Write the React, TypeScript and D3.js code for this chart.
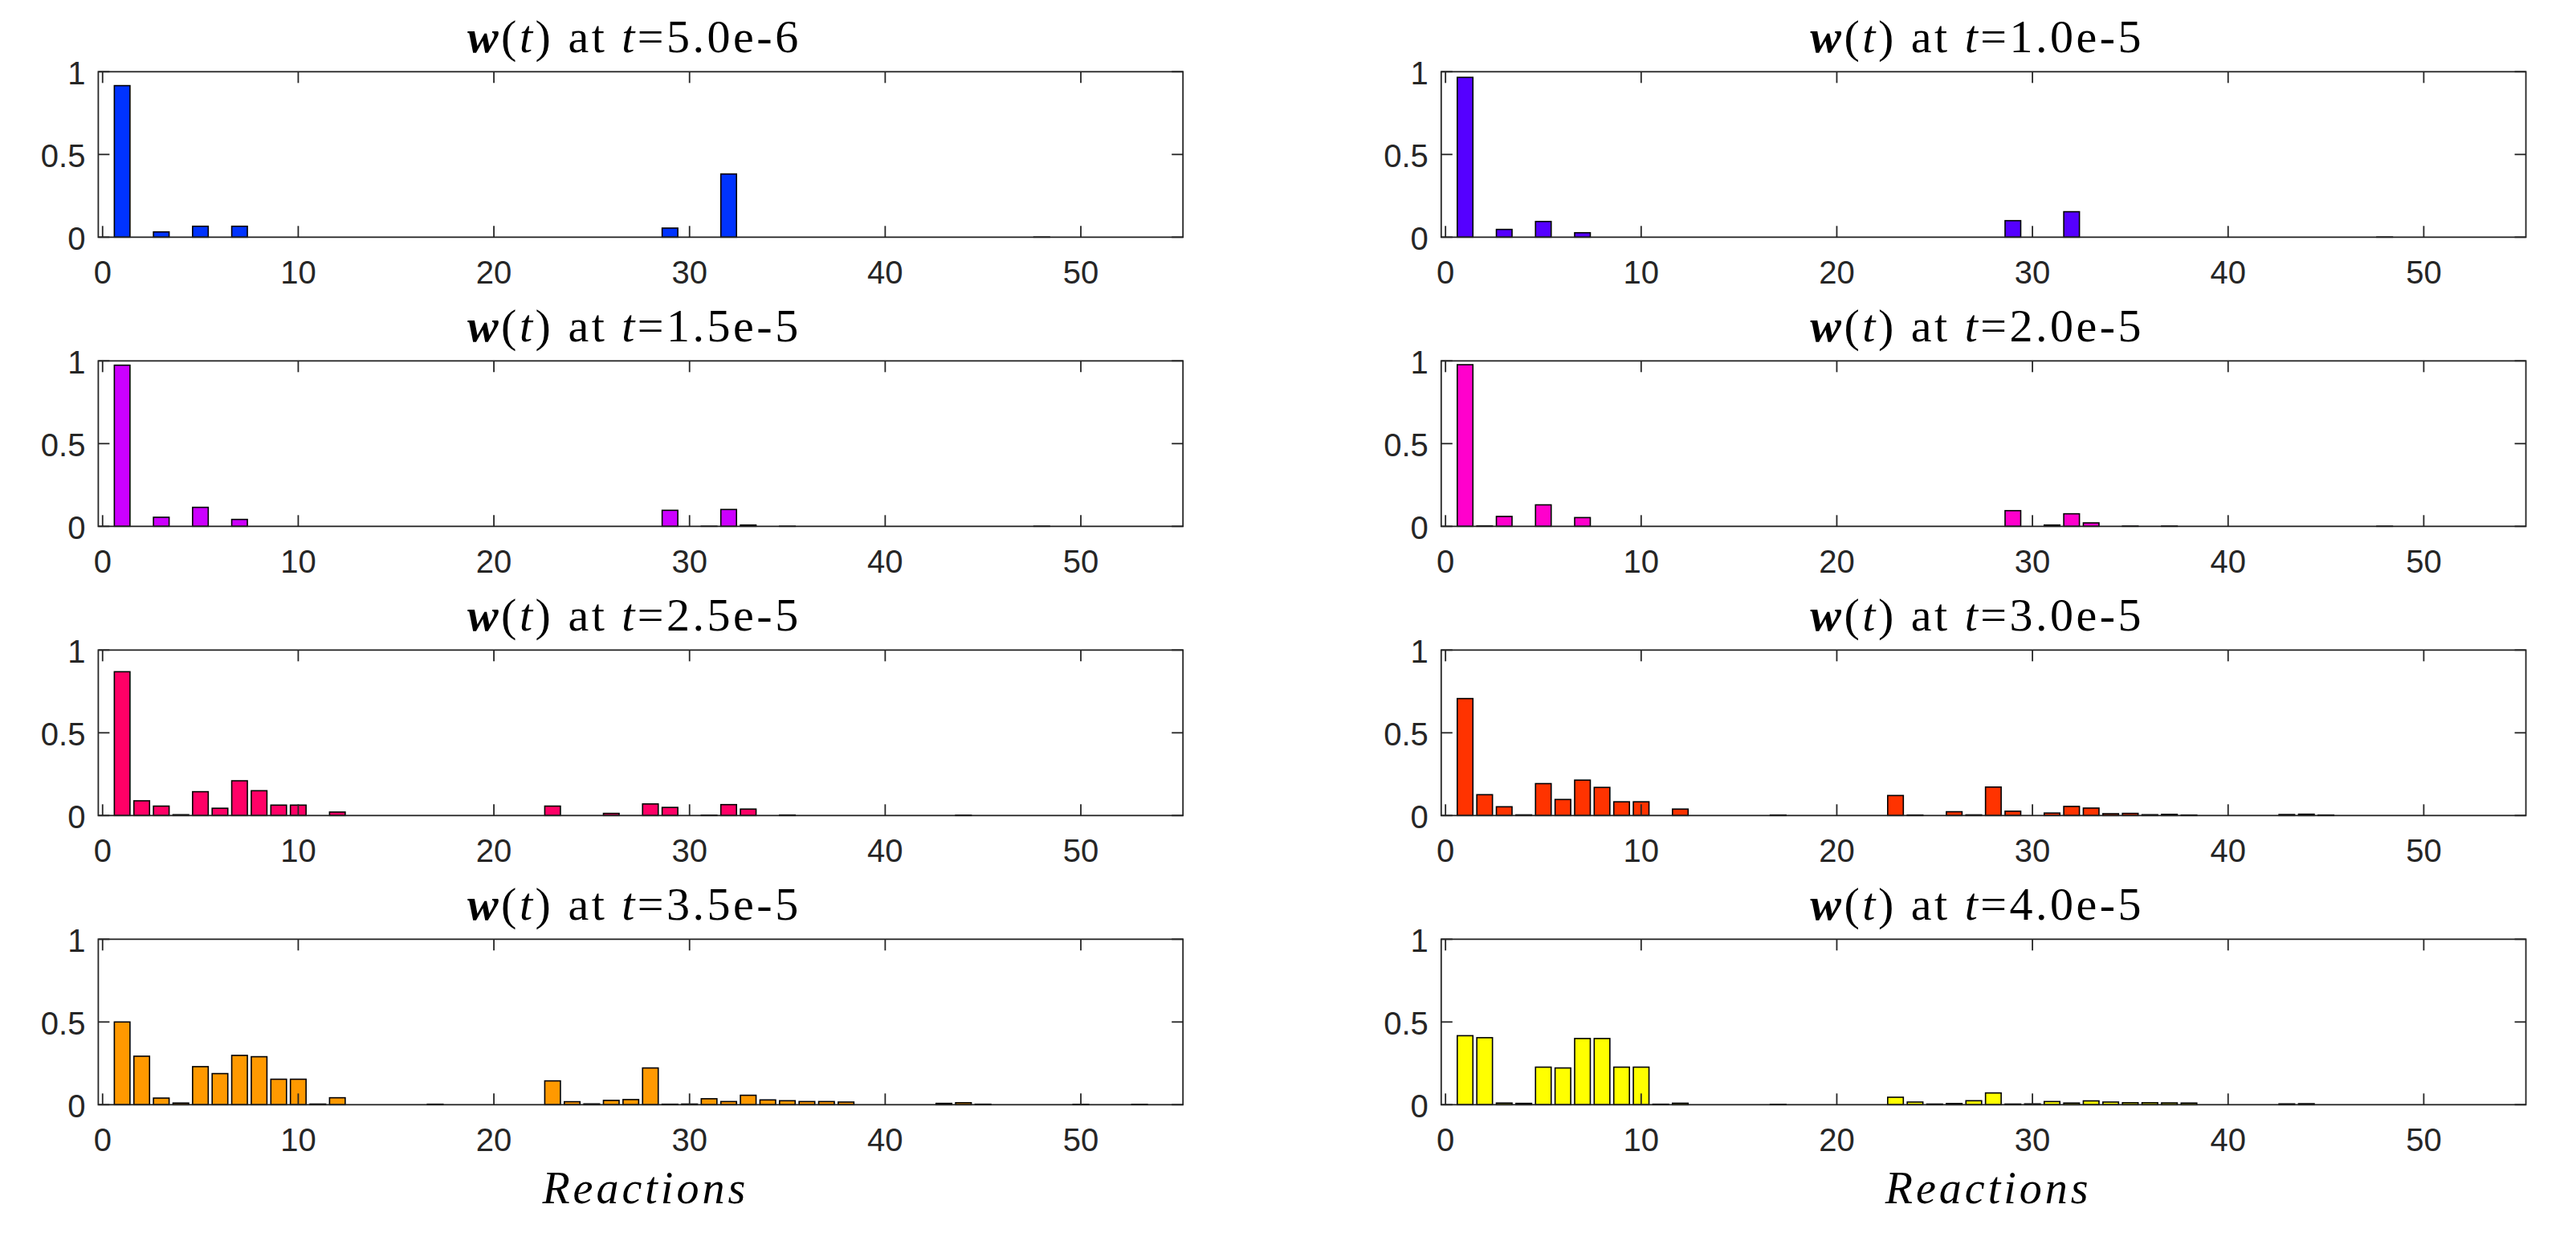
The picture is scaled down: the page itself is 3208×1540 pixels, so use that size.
import * as d3 from 'd3';

// 54 reactions, weight of each reaction at eight snapshots in time
const REACTIONS = d3.range(1, 55);

const W_5_0e6 = [
  0.916, 0, 0.032, 0, 0.066, 0, 0.066, 0, 0, 0,
  0, 0, 0, 0, 0, 0, 0, 0, 0, 0,
  0, 0, 0, 0, 0, 0, 0, 0, 0.055, 0,
  0, 0.382, 0, 0, 0, 0, 0, 0, 0, 0,
  0, 0, 0, 0, 0, 0, 0, 0.001, 0, 0,
  0, 0, 0, 0,
];
const W_1_0e5 = [
  0.966, 0, 0.047, 0, 0.095, 0, 0.027, 0, 0, 0,
  0, 0, 0, 0, 0, 0, 0, 0, 0, 0,
  0, 0, 0, 0, 0, 0, 0, 0, 0.1, 0,
  0, 0.154, 0, 0, 0, 0, 0, 0, 0, 0,
  0, 0, 0, 0, 0, 0, 0, 0.001, 0, 0,
  0, 0, 0, 0,
];
const W_1_5e5 = [
  0.974, 0, 0.055, 0, 0.115, 0, 0.042, 0, 0, 0,
  0, 0, 0, 0, 0, 0, 0, 0, 0, 0,
  0, 0, 0, 0, 0, 0, 0, 0, 0.097, 0,
  0.001, 0.102, 0.008, 0, 0.001, 0, 0, 0, 0, 0,
  0, 0, 0, 0, 0, 0, 0, 0.001, 0, 0,
  0, 0, 0, 0,
];
const W_2_0e5 = [
  0.977, 0.003, 0.06, 0, 0.13, 0, 0.053, 0, 0, 0,
  0, 0, 0, 0, 0, 0, 0, 0, 0, 0,
  0, 0, 0, 0, 0, 0, 0, 0, 0.095, 0,
  0.008, 0.076, 0.021, 0, 0.002, 0, 0.002, 0, 0, 0,
  0, 0, 0, 0, 0, 0, 0, 0.001, 0, 0,
  0, 0, 0, 0,
];
const W_2_5e5 = [
  0.869, 0.089, 0.057, 0.005, 0.144, 0.044, 0.21, 0.15, 0.063, 0.063,
  0, 0.021, 0, 0, 0, 0, 0, 0, 0, 0,
  0, 0, 0.057, 0, 0, 0.013, 0, 0.07, 0.049, 0,
  0.002, 0.066, 0.039, 0, 0.003, 0, 0, 0, 0, 0,
  0, 0, 0, 0.002, 0, 0, 0, 0, 0, 0,
  0, 0, 0, 0,
];
const W_3_0e5 = [
  0.707, 0.126, 0.053, 0.004, 0.193, 0.097, 0.214, 0.17, 0.083, 0.083,
  0, 0.039, 0, 0, 0, 0, 0.003, 0, 0, 0,
  0, 0, 0.121, 0.003, 0, 0.023, 0.004, 0.172, 0.026, 0,
  0.015, 0.055, 0.045, 0.011, 0.013, 0.005, 0.007, 0.003, 0, 0,
  0, 0, 0.006, 0.008, 0.003, 0, 0, 0, 0, 0,
  0, 0, 0, 0,
];
const W_3_5e5 = [
  0.5, 0.293, 0.04, 0.01, 0.23, 0.188, 0.298, 0.29, 0.154, 0.154,
  0.004, 0.042, 0, 0, 0, 0, 0.003, 0, 0, 0,
  0, 0, 0.144, 0.018, 0.005, 0.026, 0.031, 0.222, 0.003, 0.004,
  0.036, 0.019, 0.057, 0.029, 0.024, 0.019, 0.019, 0.016, 0, 0,
  0, 0, 0.008, 0.012, 0.003, 0, 0, 0, 0, 0.002,
  0, 0, 0.002, 0,
];
const W_4_0e5 = [
  0.417, 0.405, 0.01, 0.008, 0.227, 0.222, 0.4, 0.4, 0.227, 0.227,
  0.003, 0.009, 0, 0, 0, 0, 0.002, 0, 0, 0,
  0, 0, 0.045, 0.016, 0.004, 0.007, 0.024, 0.071, 0.004, 0.005,
  0.019, 0.01, 0.023, 0.016, 0.012, 0.012, 0.011, 0.01, 0, 0,
  0, 0, 0.005, 0.006, 0, 0, 0, 0, 0, 0,
  0, 0, 0, 0,
];

const TIMES = ['5.0e-6', '1.0e-5', '1.5e-5', '2.0e-5', '2.5e-5', '3.0e-5', '3.5e-5', '4.0e-5'];
const SERIES = [W_5_0e6, W_1_0e5, W_1_5e5, W_2_0e5, W_2_5e5, W_3_0e5, W_3_5e5, W_4_0e5];
const COLORS = ['#0033ff', '#5500ff', '#cc00ff', '#ff00cc', '#ff0066', '#ff3300', '#ff9900', '#ffff00'];

const X_TICKS = [0, 10, 20, 30, 40, 50];
const Y_TICKS = [0, 0.5, 1];

const WIDTH = 3208;
const HEIGHT = 1540;
const COL_LEFT = [122.4, 1794.8];
const ROW_TOP = [89.3, 449.3, 809.3, 1169.3];
const PW = 1350.8;
const PH = 206;
const TICK = 14;
const AXIS = '#262626';
const SANS = "'Liberation Sans', Arial, Helvetica, sans-serif";
const SERIF = "'Liberation Serif', 'Times New Roman', serif";

const x = d3.scaleLinear().domain([-0.22, 55.22]).range([0, PW]);
const y = d3.scaleLinear().domain([0, 1]).range([PH, 0]);
const barW = x(0.8) - x(0);

function Panel({ i }: { i: number }) {
  const left = COL_LEFT[i % 2];
  const top = ROW_TOP[Math.floor(i / 2)];
  const vals = SERIES[i];
  const bottomRow = Math.floor(i / 2) === 3;
  return (
    <g transform={`translate(${left},${top})`}>
      {/* title */}
      <text x={PW / 2 - 8} y={-24} textAnchor="middle" fontFamily={SERIF}
        fontSize={58} letterSpacing={3.5} fill="#000">
        <tspan fontWeight="bold" fontStyle="italic">w</tspan>
        <tspan>(</tspan>
        <tspan fontStyle="italic">t</tspan>
        <tspan>) at </tspan>
        <tspan fontStyle="italic">t</tspan>
        <tspan>={TIMES[i]}</tspan>
      </text>

      {/* bars */}
      {REACTIONS.map((r, k) => (
        <rect key={r} x={x(r) - barW / 2} y={y(vals[k])} width={barW}
          height={y(0) - y(vals[k])} fill={COLORS[i]} stroke="#000" strokeWidth={1.6} />
      ))}

      {/* box */}
      <rect x={0} y={0} width={PW} height={PH} fill="none" stroke={AXIS} strokeWidth={1.8} />

      {/* x ticks */}
      {X_TICKS.map(t => (
        <g key={t}>
          <line x1={x(t)} x2={x(t)} y1={PH} y2={PH - TICK} stroke={AXIS} strokeWidth={1.8} />
          <line x1={x(t)} x2={x(t)} y1={0} y2={TICK} stroke={AXIS} strokeWidth={1.8} />
          <text x={x(t)} y={PH + 58} textAnchor="middle" fontFamily={SANS}
            fontSize={40} fill={AXIS}>{t}</text>
        </g>
      ))}

      {/* y ticks */}
      {Y_TICKS.map(t => (
        <g key={t}>
          <line x1={0} x2={TICK} y1={y(t)} y2={y(t)} stroke={AXIS} strokeWidth={1.8} />
          <line x1={PW} x2={PW - TICK} y1={y(t)} y2={y(t)} stroke={AXIS} strokeWidth={1.8} />
          <text x={-16} y={y(t) + 16} textAnchor="end" fontFamily={SANS}
            fontSize={40} fill={AXIS}>{t}</text>
        </g>
      ))}

      {bottomRow && (
        <text x={PW / 2 + 6} y={PH + 123} textAnchor="middle" fontFamily={SERIF}
          fontStyle="italic" fontSize={56} letterSpacing={4} fill="#000">Reactions</text>
      )}
    </g>
  );
}

export default function App() {
  return (
    <svg width={WIDTH} height={HEIGHT} viewBox={`0 0 ${WIDTH} ${HEIGHT}`}
      style={{ position: 'absolute', left: 0, top: 0, background: '#fff' }}>
      <rect width={WIDTH} height={HEIGHT} fill="#fff" />
      {TIMES.map((_, i) => <Panel key={i} i={i} />)}
    </svg>
  );
}
